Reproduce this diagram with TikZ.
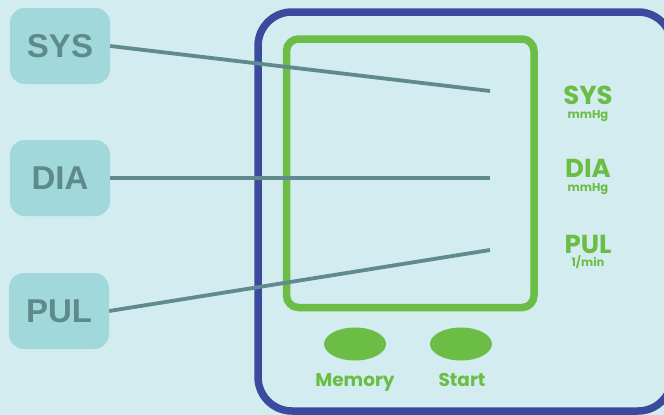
\documentclass[tikz,border=0pt]{standalone}
\usepackage{fontspec}
\setmainfont{Poppins}
\newfontfamily\tagfont{Liberation Sans}
\usetikzlibrary{shapes.geometric}
\definecolor{bgcol}{HTML}{D2ECEF}
\definecolor{tagfill}{HTML}{A1D8DC}
\definecolor{tagtext}{HTML}{5E8A8C}
\definecolor{leadcol}{HTML}{5F8B8E}
\definecolor{screengreen}{HTML}{6CBD45}
\definecolor{caseblue}{HTML}{3A4A9F}
\tikzset{
  tag/.style={fill=tagfill, rounded corners=15pt, minimum width=100pt, minimum height=76pt,
    text=tagtext, font=\tagfont\bfseries\fontsize{33}{33}\selectfont},
  lead/.style={leadcol, line width=3.8pt},
  readout/.style={text=screengreen, font=\bfseries\fontsize{26}{26}\selectfont, inner sep=0pt,
    text depth=0pt},
  unit/.style={text=screengreen, font=\bfseries\fontsize{11.5}{11.5}\selectfont, inner sep=0pt,
    text height=8pt, text depth=2.5pt},
  button/.style={ellipse, fill=screengreen, minimum width=62pt, minimum height=33pt, inner sep=0pt},
  keyname/.style={text=screengreen, font=\bfseries\fontsize{18.5}{18.5}\selectfont, inner sep=0pt,
    text depth=0pt}
}
\begin{document}
\begin{tikzpicture}[x=1pt,y=-1pt]
\useasboundingbox (0,0) rectangle (664,415);
\fill[bgcol] (0,0) rectangle (664,415);
% case and screen
\draw[caseblue, line width=7.5pt, rounded corners=34pt] (258,12) rectangle (672,411);
\draw[screengreen, line width=7.5pt, rounded corners=12pt] (286.5,39) rectangle (534,307.5);
% tags on the left
\node[tag] (sys) at (60,46) {SYS};
\node[tag] (dia) at (60,178) {DIA};
\node[tag] (pul) at (59,311) {PUL};
% readouts
\node[readout] (sysread) at (588,95) {SYS};
\node[unit] (sysunit) at (588,116) {mmHg};
\node[readout] (diaread) at (588,168) {DIA};
\node[unit] (diaunit) at (588,189) {mmHg};
\node[readout] (pulread) at (588,244) {PUL};
\node[unit] (pulunit) at (588,264) {1/min};
% leads
\coordinate (sysend) at (490,91);
\coordinate (diaend) at (490,178);
\coordinate (pulend) at (490,250);
\draw[lead] (sys.east) -- (sysend);
\draw[lead] (dia.east) -- (diaend);
\draw[lead] (pul.east) -- (pulend);
% buttons
\node[button] (memory) at (355,344) {};
\node[button] (start) at (461,344) {};
\node[keyname] (memorytext) at (355,380) {Memory};
\node[keyname] (starttext) at (462,380) {Start};
\end{tikzpicture}
\end{document}
